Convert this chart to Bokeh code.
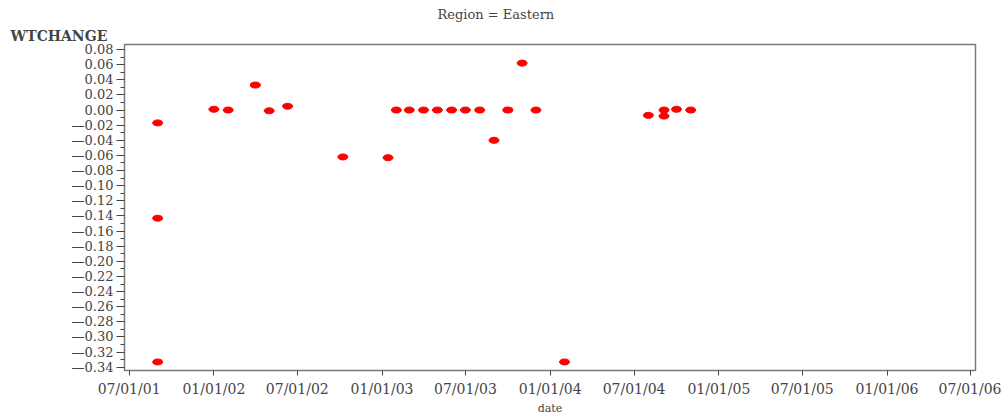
from datetime import datetime
from bokeh.plotting import figure
from bokeh.models import Range1d, FixedTicker, Title, ColumnDataSource, CustomJSTickFormatter
from bokeh.embed import file_html
from bokeh.resources import INLINE

# ---- data ----
dates = ["2001-09-01", "2001-09-01", "2001-09-01", "2002-01-01", "2002-02-01",
         "2002-04-01", "2002-05-01", "2002-06-10", "2002-10-08", "2003-01-14",
         "2003-02-01", "2003-03-01", "2003-04-01", "2003-05-01", "2003-06-01",
         "2003-07-01", "2003-08-01", "2003-09-01", "2003-10-01", "2003-11-01",
         "2003-12-01", "2004-02-01", "2004-08-01", "2004-09-04", "2004-09-04",
         "2004-10-01", "2004-11-01"]
wtchange = [-0.017, -0.143, -0.333, 0.001, 0.000,
            0.033, -0.001, 0.005, -0.062, -0.063,
            0.000, 0.000, 0.000, 0.000, 0.000,
            0.000, 0.000, -0.040, 0.000, 0.062,
            0.000, -0.333, -0.007, 0.000, -0.008,
            0.001, 0.000]

x_tick_dates = ["2001-07-01", "2002-01-01", "2002-07-01", "2003-01-01", "2003-07-01",
                "2004-01-01", "2004-07-01", "2005-01-01", "2005-07-01", "2006-01-01",
                "2006-07-01"]
x_tick_labels = ["07/01/01", "01/01/02", "07/01/02", "01/01/03", "07/01/03",
                 "01/01/04", "07/01/04", "01/01/05", "07/01/05", "01/01/06",
                 "07/01/06"]
y_ticks = [0.08, 0.06, 0.04, 0.02, 0.00, -0.02, -0.04, -0.06, -0.08, -0.10, -0.12,
           -0.14, -0.16, -0.18, -0.20, -0.22, -0.24, -0.26, -0.28, -0.30, -0.32, -0.34]
y_tick_labels = ["0.08", "0.06", "0.04", "0.02", "0.00", "\u20140.02", "\u20140.04",
                 "\u20140.06", "\u20140.08", "\u20140.10", "\u20140.12", "\u20140.14",
                 "\u20140.16", "\u20140.18", "\u20140.20", "\u20140.22", "\u20140.24",
                 "\u20140.26", "\u20140.28", "\u20140.30", "\u20140.32", "\u20140.34"]
y_minor = [0.07, 0.05, 0.03, 0.01, -0.01, -0.03, -0.05, -0.07, -0.09, -0.11, -0.13,
           -0.15, -0.17, -0.19, -0.21, -0.23, -0.25, -0.27, -0.29, -0.31, -0.33]

FONT = "DejaVu Serif"
EPOCH = datetime(1970, 1, 1)


def to_ms(s):
    return (datetime.strptime(s, "%Y-%m-%d") - EPOCH).total_seconds() * 1000.0


src = ColumnDataSource(dict(x=[datetime.strptime(d, "%Y-%m-%d") for d in dates],
                            y=wtchange))

p = figure(width=1001, height=417, output_backend="svg", toolbar_location=None,
           x_axis_type="datetime",
           x_range=Range1d(datetime(2001, 6, 21), datetime(2006, 7, 12)),
           y_range=Range1d(-0.3443, 0.0866),
           min_border_left=124, min_border_right=26, min_border_top=44,
           min_border_bottom=46)
p.title.visible = False
p.grid.visible = False
p.outline_line_color = "#7a7a7a"
p.outline_line_width = 1.5
p.background_fill_color = "white"
p.border_fill_color = "white"

p.ellipse(x="x", y="y", width=10, height=6, width_units="screen",
          height_units="screen", source=src, fill_color="#ff0000",
          line_color="#ff0000")

nearest_js = """
let best = 0;
for (let i = 0; i < tvals.length; i++) {
  if (Math.abs(tvals[i] - tick) < Math.abs(tvals[best] - tick)) best = i;
}
return tlabels[best];
"""

# x axis
xa = p.xaxis[0]
x_ms = [to_ms(d) for d in x_tick_dates]
xa.ticker = FixedTicker(ticks=x_ms, minor_ticks=[])
xa.formatter = CustomJSTickFormatter(args=dict(tvals=x_ms, tlabels=x_tick_labels),
                                     code=nearest_js)
xa.axis_label = "date"
xa.axis_label_text_font = FONT
xa.axis_label_text_font_size = "11px"
xa.axis_label_text_font_style = "normal"
xa.axis_label_standoff = 2
xa.major_label_text_font = FONT
xa.major_label_text_font_size = "14px"
xa.major_label_standoff = 5
xa.major_tick_out = 5
xa.major_tick_in = 0
xa.minor_tick_out = 0
xa.axis_line_color = "#7a7a7a"
xa.major_tick_line_color = "#444444"

# y axis
ya = p.yaxis[0]
ya.ticker = FixedTicker(ticks=y_ticks, minor_ticks=y_minor)
ya.formatter = CustomJSTickFormatter(args=dict(tvals=y_ticks, tlabels=y_tick_labels),
                                     code=nearest_js)
ya.major_label_text_font = FONT
ya.major_label_text_font_size = "13px"
ya.major_label_standoff = 3
ya.major_tick_out = 8
ya.major_tick_in = 0
ya.minor_tick_out = 4
ya.minor_tick_in = 0
ya.axis_line_color = "#7a7a7a"
ya.major_tick_line_color = "#444444"
ya.minor_tick_line_color = "#444444"

# titles
t1 = Title(text="WTCHANGE", align="left", offset=-114, text_font=FONT,
           text_font_size="14px", text_font_style="bold", standoff=2)
p.add_layout(t1, "above")
t2 = Title(text="Region = Eastern", align="left", offset=313, text_font=FONT,
           text_font_size="13px", text_font_style="normal", standoff=6)
p.add_layout(t2, "above")

open("out.html", "w").write(file_html(p, INLINE))
